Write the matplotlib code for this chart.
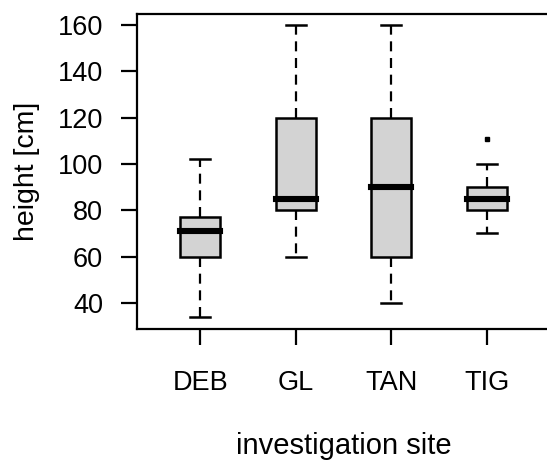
import matplotlib
matplotlib.use("Agg")
import matplotlib.pyplot as plt

sites = ["DEB", "GL", "TAN", "TIG"]
whislo = [34, 60, 40, 70]
q1 = [60, 80, 60, 80]
med = [71, 85, 90, 85]
q3 = [77, 120, 120, 90]
whishi = [102, 160, 160, 100]
fliers = [[], [], [], [111]]
yticks = [40, 60, 80, 100, 120, 140, 160]

plt.rcParams['font.family'] = ['Liberation Sans', 'DejaVu Sans']

fig = plt.figure(figsize=(5.47, 4.62), dpi=100)
ax = fig.add_axes([137/547, 1 - 329/462, (550 - 137)/547, (329 - 14)/462])

stats = []
for i in range(len(sites)):
    stats.append(dict(whislo=whislo[i], q1=q1[i], med=med[i], q3=q3[i],
                      whishi=whishi[i], fliers=fliers[i], label=sites[i]))

ax.bxp(stats, positions=range(1, len(sites) + 1), widths=0.42,
       patch_artist=True, showfliers=True,
       boxprops=dict(facecolor='#d3d3d3', edgecolor='black', linewidth=1.8),
       medianprops=dict(color='black', linewidth=4.4, solid_capstyle='projecting'),
       whiskerprops=dict(color='black', linewidth=1.6, linestyle=(0, (4.5, 3))),
       capprops=dict(color='black', linewidth=1.8),
       capwidths=0.21,
       flierprops=dict(marker='s', markersize=2.2, markerfacecolor='black',
                       markeredgecolor='black', linestyle='none'))

ax.set_xlim(0.34, 4.66)
ax.set_ylim(28.7, 164.8)
ax.set_yticks(yticks)
ax.set_yticklabels([str(v) for v in yticks])
ax.set_xticks(range(1, len(sites) + 1))
ax.set_xticklabels(sites)
for s in ax.spines.values():
    s.set_linewidth(1.6)
ax.tick_params(axis='both', length=11.5, width=1.6, labelsize=19.5)
ax.tick_params(axis='y', pad=13)
ax.tick_params(axis='x', pad=18)
ax.set_ylabel("height [cm]", fontsize=20.5, labelpad=13)
ax.set_xlabel("investigation site", fontsize=21, labelpad=26)

fig.savefig("out.png", dpi=100)
